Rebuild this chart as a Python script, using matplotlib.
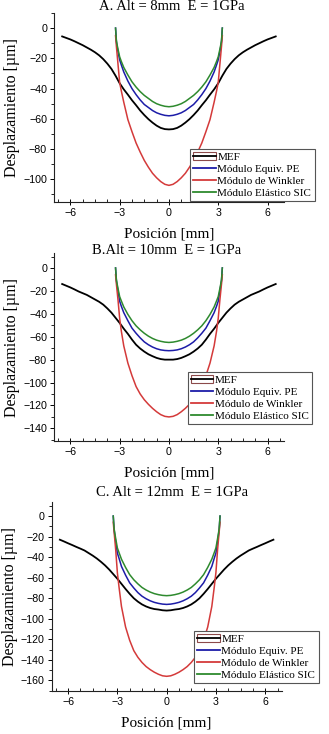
import matplotlib
matplotlib.use("Agg")
import matplotlib.pyplot as plt
from matplotlib.ticker import MultipleLocator, AutoMinorLocator
from matplotlib.patches import Patch
from matplotlib.lines import Line2D
from matplotlib.legend_handler import HandlerTuple

# ---------------- data ----------------
titles = ["A. Alt = 8mm  E = 1GPa", "B.Alt = 10mm  E = 1GPa", "C. Alt = 12mm  E = 1GPa"]
series_names = ["MEF", "Módulo Equiv. PE", "Módulo de Winkler", "Módulo Elástico SIC"]

x_mef = [-6.5, -6.25, -6.0, -5.75, -5.5, -5.25, -5.0, -4.75, -4.5, -4.25, -4.0, -3.75, -3.5, -3.25,
         -3.0, -2.75, -2.5, -2.25, -2.0, -1.75, -1.5, -1.25, -1.0, -0.75, -0.5, -0.25, 0.0,
         0.25, 0.5, 0.75, 1.0, 1.25, 1.5, 1.75, 2.0, 2.25, 2.5, 2.75, 3.0, 3.25, 3.5, 3.75,
         4.0, 4.25, 4.5, 4.75, 5.0, 5.25, 5.5, 5.75, 6.0, 6.25, 6.5]
x_inner = [-3.25, -3.2, -3.15, -3.1, -3.0, -2.9, -2.75, -2.5, -2.25, -2.0, -1.75, -1.5, -1.25, -1.0,
           -0.75, -0.5, -0.25, 0.0, 0.25, 0.5, 0.75, 1.0, 1.25, 1.5, 1.75, 2.0, 2.25, 2.5, 2.75,
           2.9, 3.0, 3.1, 3.15, 3.2, 3.25]

# Panel A (Alt = 8 mm)
mef_A = [-5.5, -6.5, -7.5, -8.7, -10, -11.3, -12.8, -14.3, -16, -18, -20.5, -23.5, -27, -31.5,
         -36.5, -40.5, -44, -47.7, -51, -54.5, -57.5, -60.2, -62.5, -64.5, -66, -66.8, -67,
         -66.8, -66, -64.5, -62.5, -60.2, -57.5, -54.5, -51, -47.7, -44, -40.5, -36.5, -31.5,
         -27, -23.5, -20.5, -18, -16, -14.3, -12.8, -11.3, -10, -8.7, -7.5, -6.5, -5.5]
pe_A = [0, -9, -12.5, -15.5, -21, -24.3, -29, -35, -40, -44, -47.5, -50.5, -52.5, -54.5, -56, -57, -57.7, -58,
        -57.7, -57, -56, -54.5, -52.5, -50.5, -47.5, -44, -40, -35, -29, -24.3, -21, -15.5, -12.5, -9, 0]
wink_A = [-5, -12, -18, -24, -36, -41.5, -49, -60.5, -68.5, -76, -82, -87.5, -92, -96, -99, -101.5, -103.3, -104,
          -103.3, -101.5, -99, -96, -92, -87.5, -82, -76, -68.5, -60.5, -49, -41.5, -36, -24, -18, -12, -5]
sic_A = [0, -8, -11.3, -14, -19, -22, -26, -31, -35.5, -39, -42, -44.5, -46.5, -48.5, -50, -51, -51.7, -52,
         -51.7, -51, -50, -48.5, -46.5, -44.5, -42, -39, -35.5, -31, -26, -22, -19, -14, -11.3, -8, 0]

# Panel B (Alt = 10 mm)
mef_B = [-14, -15.5, -17, -18.7, -20.5, -22, -23.5, -25.5, -27.5, -29.5, -32, -35.3, -39, -43.5,
         -48, -53, -57.5, -62.5, -67, -70.3, -73, -75.3, -77, -78.5, -79.5, -80, -80,
         -80, -79.5, -78.5, -77, -75.3, -73, -70.3, -67, -62.5, -57.5, -53, -48, -43.5,
         -39, -35.3, -32, -29.5, -27.5, -25.5, -23.5, -22, -20.5, -18.7, -17, -15.5, -14]
pe_B = [0, -11, -15.7, -20, -29, -33.3, -39, -46, -52.5, -57, -61, -64.5, -67, -69, -70.5, -71.5, -72, -72.2,
        -72, -71.5, -70.5, -69, -67, -64.5, -61, -57, -52.5, -46, -39, -33.3, -29, -20, -15.7, -11, 0]
wink_B = [-6, -14, -21, -28, -44, -55, -68, -83, -94, -103.5, -110, -115, -119, -122.5, -125.5, -128, -129.5, -130,
          -129.5, -128, -125.5, -122.5, -119, -115, -110, -103.5, -94, -83, -68, -55, -44, -28, -21, -14, -6]
sic_B = [0, -10, -14.2, -18, -25, -28.7, -34, -40.5, -46, -50.5, -54, -57, -59.5, -61.5, -63, -64, -64.7, -65,
         -64.7, -64, -63, -61.5, -59.5, -57, -54, -50.5, -46, -40.5, -34, -28.7, -25, -18, -14.2, -10, 0]

# Panel C (Alt = 12 mm)
mef_C = [-23, -24.7, -26.5, -28.2, -30, -31.7, -33.5, -36, -38.5, -41.3, -44.5, -48, -52, -56.5,
         -61, -66, -71, -75.7, -80, -83.3, -86, -88, -89.5, -90.5, -91, -91.7, -92,
         -91.7, -91, -90.5, -89.5, -88, -86, -83.3, -80, -75.7, -71, -66, -61, -56.5,
         -52, -48, -44.5, -41.3, -38.5, -36, -33.5, -31.7, -30, -28.2, -26.5, -24.7, -23]
pe_C = [0, -13, -19.2, -25, -36, -41, -49, -57.5, -65, -70, -74.5, -78, -80.5, -82.5, -84, -85, -85.7, -86,
        -85.7, -85, -84, -82.5, -80.5, -78, -74.5, -70, -65, -57.5, -49, -41, -36, -25, -19.2, -13, 0]
wink_C = [-6, -15, -24, -33, -55, -69, -88, -108, -121, -131, -137.5, -142.5, -146.5, -149.5, -152, -154, -155.5, -156,
          -155.5, -154, -152, -149.5, -146.5, -142.5, -137.5, -131, -121, -108, -88, -69, -55, -33, -24, -15, -6]
sic_C = [0, -12, -17.2, -22, -31, -35.5, -42, -50, -57, -62, -66, -69.5, -72, -74, -75.5, -76.5, -77.2, -77.5,
         -77.2, -76.5, -75.5, -74, -72, -69.5, -66, -62, -57, -50, -42, -35.5, -31, -22, -17.2, -12, 0]

ylims = [(-115, 10), (-151, 13), (-170, 14)]
xlim = (-7, 7)

# ---------------- style ----------------
SERIF = ["Liberation Serif", "DejaVu Serif"]
SANS = ["Liberation Sans", "DejaVu Sans"]
c_mef, c_pe, c_wink, c_sic = "#000000", "#1c1ca8", "#d43a3a", "#2e8a2e"

W, H = 329, 734
fig = plt.figure(figsize=(W / 100, H / 100), dpi=100)
axes_pos = [
    [0.164, 0.7248, 0.699, 0.2575],
    [0.164, 0.3992, 0.699, 0.2560],
    [0.157, 0.0590, 0.699, 0.2575],
]
legend_anchor = [(0.578, 0.726), (0.571, 0.4223), (0.590, 0.0695)]
title_xy_px = [(171.5, 7), (166.5, 250), (171.5, 492)]

panels = [
    (mef_A, pe_A, wink_A, sic_A),
    (mef_B, pe_B, wink_B, sic_B),
    (mef_C, pe_C, wink_C, sic_C),
]

for i, (mef, pe, wink, sic) in enumerate(panels):
    ax = fig.add_axes(axes_pos[i])
    ax.plot(x_mef, mef, color=c_mef, lw=1.3)
    ax.plot(x_inner, pe, color=c_pe, lw=1.1)
    ax.plot(x_inner, wink, color=c_wink, lw=1.1)
    ax.plot(x_inner, sic, color=c_sic, lw=1.1)

    ax.set_xlim(*xlim)
    ax.set_ylim(*ylims[i])
    ax.spines["top"].set_visible(False)
    ax.spines["right"].set_visible(False)
    for s in ("left", "bottom"):
        ax.spines[s].set_linewidth(0.8)
        ax.spines[s].set_color("#222222")

    ax.set_xticks([-6, -3, 0, 3, 6])
    ax.xaxis.set_minor_locator(AutoMinorLocator(4))
    ax.yaxis.set_major_locator(MultipleLocator(20))
    ax.yaxis.set_minor_locator(AutoMinorLocator(2))
    ax.tick_params(axis="x", which="major", direction="inout", length=4, width=0.7, pad=2.5)
    ax.tick_params(axis="x", which="minor", direction="in", length=2.5, width=0.6)
    ax.tick_params(axis="y", which="major", direction="out", length=3, width=0.7, pad=2)
    ax.tick_params(axis="y", which="minor", direction="out", length=2, width=0.6)
    for lab in ax.get_xticklabels() + ax.get_yticklabels():
        lab.set_fontfamily(SANS)
        lab.set_fontsize(7.7)

    tx, ty = title_xy_px[i]
    fig.text(tx / W, 1 - ty / H, titles[i], fontfamily=SERIF, fontsize=10.5,
             ha="center", va="center")
    ax.set_xlabel("Posición [mm]", fontfamily=SERIF, fontsize=11, labelpad=7)
    ax.set_ylabel("Desplazamiento [µm]", fontfamily=SERIF, fontsize=11.5, labelpad=2)

    h_mef = (Patch(facecolor="white", edgecolor="#8c4a4a", linewidth=0.8),
             Line2D([], [], color=c_mef, lw=1.3))
    h_pe = Line2D([], [], color=c_pe, lw=1.3)
    h_wink = Line2D([], [], color=c_wink, lw=1.3)
    h_sic = Line2D([], [], color=c_sic, lw=1.3)
    leg = fig.legend([h_mef, h_pe, h_wink, h_sic], series_names,
                     handler_map={tuple: HandlerTuple(ndivide=1)},
                     loc="lower left", bbox_to_anchor=legend_anchor[i],
                     bbox_transform=fig.transFigure, borderaxespad=0,
                     prop={"family": SERIF, "size": 8.0},
                     frameon=True, fancybox=False, framealpha=1,
                     edgecolor="#555555", handlelength=2.0, handletextpad=0.15,
                     labelspacing=0.2, borderpad=0.3)
    leg.get_frame().set_linewidth(0.8)

fig.savefig("out.png", dpi=100)
